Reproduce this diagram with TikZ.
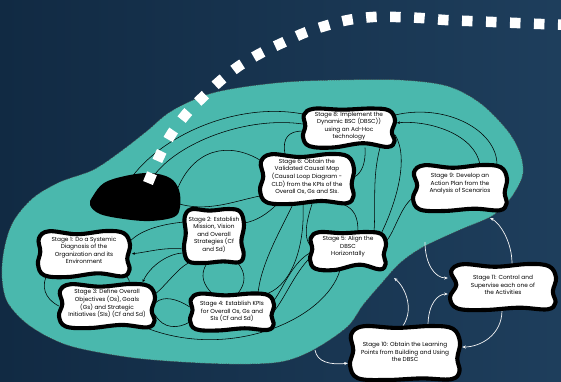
\documentclass[tikz,border=0pt]{standalone}
\usepackage{fontspec}
\setmainfont{Poppins}
\usetikzlibrary{calc,arrows.meta}
\pgfdeclarelayer{backdrop}
\pgfdeclarelayer{links}
\pgfdeclarelayer{shapes}
\pgfsetlayers{backdrop,links,shapes,main}

\definecolor{navyL}{HTML}{112A43}
\definecolor{navyR}{HTML}{1E3E5C}
\definecolor{lagoon}{HTML}{4AB8AD}

\tikzset{
  stagearea/.style={rectangle, inner sep=0pt, font=\fontsize{5.8}{7.4}\selectfont},
  link/.style={line width=0.55pt, black},
  linkarrow/.style={link, -{Stealth[length=3pt,width=2.6pt]}, shorten >=1.8pt},
  whitelink/.style={line width=0.7pt, white!92!gray, -{Stealth[length=3.6pt,width=3pt]}},
  whitelinkin/.style={whitelink, shorten >=2pt},
  stageline/.style={draw=black, fill=white, line width=4.1pt, line join=round},
}

% text block raised by #1 inside a stage node
\newcommand\stagetext[2]{\raisebox{#1}[0pt][0pt]{\begin{tabular}{@{}c@{}}#2\end{tabular}}}

% wavy white outline around a stage node: #2,#3 half sizes, #4-#7 dents (top,right,bottom,left)
\newcommand\stageblob[7]{%
  \begin{scope}[shift={(#1.center)}, x=#2pt, y=-#3pt]
    \path[stageline] plot[smooth cycle, tension=0.62] coordinates {
      (-0.76,-0.99) (-0.15,{-1+(#4)}) (0.48,-1.00) (0.87,-0.90) (1.00,-0.40)
      ({1-(#5)},0.20) (0.99,0.68) (0.84,0.97) (0.30,{1-(#6)}) (-0.35,1.00)
      (-0.86,0.93) (-1.00,0.45) ({-1+(#7)},-0.10) (-0.98,-0.68)};
  \end{scope}}

\begin{document}
\begin{tikzpicture}[x=1pt,y=-1pt]
\useasboundingbox (0,0) rectangle (561,381);

\begin{pgfonlayer}{backdrop}
  \shade[left color=navyL, right color=navyR] (0,0) rectangle (561,381);
  \path[fill=lagoon, draw=black!70, line width=0.5pt, dash pattern=on 1.2pt off 1.2pt]
    plot[smooth cycle, tension=0.55] coordinates {
      (93,170) (120,152) (147,131) (170,112) (203,96) (237,88) (287,82) (340,80)
      (400,80) (447,86) (480,103) (507,130) (520,153) (523,173) (516,190) (505,205)
      (490,217) (457,231) (423,247) (400,263) (380,285) (363,305) (347,327) (313,350)
      (280,362) (230,364) (167,361) (120,356) (67,345) (30,326) (8,303) (2,278)
      (4,250) (13,222) (33,198) (60,182)};
\end{pgfonlayer}

% stages
\node[stagearea, minimum width=92pt, minimum height=46pt] (s1) at (84,254)
  {\stagetext{1.6pt}{Stage 1: Do a Systemic\\Diagnosis of the\\Organization and its\\Environment}};
\node[stagearea, minimum width=60pt, minimum height=54pt] (s2) at (214,236)
  {\stagetext{-0.4pt}{Stage 2: Establish\\Mission, Vision\\and Overall\\Strategies (Cf\\and Sd)}};
\node[stagearea, minimum width=96pt, minimum height=44pt] (s3) at (107,306)
  {\stagetext{0.6pt}{Stage 3: Define Overall\\Objectives (Os), Goals\\(Gs) and Strategic\\Initiatives (SIs) (Cf and Sd)}};
\node[stagearea, minimum width=84pt, minimum height=37pt] (s4) at (232,312)
  {\stagetext{-1.4pt}{Stage 4: Establish KPIs\\for Overall Os, Gs and\\SIs (Cf and Sd)}};
\node[stagearea, minimum width=76pt, minimum height=38pt] (s5) at (348,251)
  {\stagetext{2.6pt}{Stage 5: Align the\\DBSC\\Horizontally}};
\node[stagearea, minimum width=94pt, minimum height=50pt] (s6) at (307,179)
  {\stagetext{0.6pt}{Stage 6: Obtain the\\Validated Causal Map\\(Causal Loop Diagram -\\CLD) from the KPIs of the\\Overall Os, Gs and SIs.}};
\node[stagearea, minimum width=92pt, minimum height=39pt] (s8) at (349,128)
  {\stagetext{0.6pt}{Stage 8: Implement the\\Dynamic BSC (DBSC))\\using an Ad-Hoc\\technology}};
\node[stagearea, minimum width=94pt, minimum height=46pt] (s9) at (460,188)
  {\stagetext{2.6pt}{Stage 9: Develop an\\Action Plan from the\\Analysis of Scenarios}};
\node[stagearea, minimum width=110pt, minimum height=54pt] (s10) at (405,353)
  {\stagetext{-1.4pt}{Stage 10: Obtain the Learning\\Points from Building and Using\\the DBSC}};
\node[stagearea, minimum width=106pt, minimum height=46pt] (s11) at (503,287)
  {\stagetext{-0.4pt}{Stage 11: Control and\\Supervise each one of\\the Activities}};
\node[inner sep=0pt, minimum width=86pt, minimum height=46pt] (core) at (135,198) {};

\coordinate (w1) at (394,278);
\coordinate (w3) at (425,242);
\coordinate (w4) at (490,218);
\coordinate (w6) at (315,350);

\begin{pgfonlayer}{links}
  % black links inside the lagoon
  \draw[link] ($(core.north)+(-3,2)$) .. controls +(33,-44) and +(-63,-12) .. ($(s8.west)+(0,-14)$);
  \draw[link] ($(core.north)+(18,2)$) .. controls +(25,-35) and +(-55,-8) .. ($(s8.west)+(0,-4)$);
  \draw[link] ($(core.east)+(-2,-6)$) .. controls +(17,-45) and +(-30,-18) .. ($(s6.west)+(0,-19)$);
  \draw[link] ($(core.east)+(-2,5)$) .. controls +(30,10) and +(-25,5) .. ($(s6.west)+(0,17)$);

  \draw[link] ($(s6.north)+(-22,0)$) .. controls +(-3,-16) and +(-14,0) .. ($(s8.west)+(0,3)$);
  \draw[link] ($(s8.south)+(16,0)$) .. controls +(1,14) and +(8,-4) .. ($(s6.east)+(0,-2)$);
  \draw[link] ($(s8.south)+(31,0)$) .. controls +(-8,30) and +(2,-28) .. ($(s5.north)+(26,0)$);
  \draw[link] ($(s8.east)+(0,7)$) .. controls +(15,25) and +(12,-25) .. ($(s5.north)+(34,0)$);
  \draw[link] ($(s8.east)+(0,-13)$) .. controls +(50,-12) and +(0,-35) .. ($(s9.north)+(37,0)$);
  \draw[linkarrow] ($(s9.north)+(20,0)$) .. controls +(-5,-30) and +(35,-3) .. ($(s8.east)+(0,-5)$);

  \draw[link] ($(s6.south)+(-14,0)$) .. controls +(-12,25) and +(3,-30) .. ($(s4.north)+(26,0)$);
  \draw[link] ($(s6.south)+(-4,0)$) .. controls +(2,40) and +(25,-10) .. ($(s4.north)+(36,0)$);
  \draw[link] ($(s6.south)+(5,0)$) .. controls +(-6,18) and +(-6,-8) .. ($(s5.west)+(0,-6)$);
  \draw[link] ($(s6.south)+(36,0)$) .. controls +(12,5) and +(0,-14) .. ($(s5.north)+(10,0)$);
  \draw[link] ($(s6.south)+(-30,0)$) .. controls +(-10,10) and +(12,-2) .. ($(s2.east)+(0,-13)$);

  \draw[link] ($(s5.west)+(0,2)$) .. controls +(-18,10) and +(8,-10) .. ($(s4.east)+(0,-12)$);
  \draw[link] ($(s5.west)+(0,7)$) .. controls +(-15,15) and +(10,-12) .. ($(s4.east)+(0,-1)$);
  \draw[link] ($(s5.south)+(-8,0)$) .. controls +(-15,50) and +(83,32) .. ($(s3.south)+(40,0)$);
  \draw[link] ($(s9.west)+(0,10)$) .. controls +(-12,8) and +(8,-8) .. ($(s5.east)+(0,-10)$);

  \draw[link] ($(s1.east)+(0,-13)$) .. controls +(12,-12) and +(-20,2) .. ($(s2.west)+(0,-14)$);
  \draw[linkarrow] ($(s2.west)+(0,13)$) .. controls +(-20,-2) and +(18,-2) .. (s1.east);
  \draw[linkarrow] ($(s2.west)+(0,17)$) .. controls +(-15,0) and +(8,-18) .. ($(s3.north)+(35,0)$);
  \draw[link] ($(s2.south)+(-26,0)$) .. controls +(-10,5) and +(10,-8) .. ($(s3.east)+(0,-12)$);
  \draw[link] ($(s2.south)+(-7,0)$) .. controls +(-8,12) and +(-8,-8) .. ($(s4.north)+(-20,0)$);
  \draw[link] ($(s2.south)+(24,0)$) .. controls +(8,10) and +(8,-10) .. ($(s4.north)+(6,0)$);

  \draw[link] ($(s3.east)+(0,-3)$) .. controls +(8,-8) and +(-12,-8) .. ($(s4.west)+(0,-5)$);
  \draw[link] ($(s3.east)+(0,9)$) .. controls +(8,14) and +(-12,7) .. ($(s4.west)+(0,10)$);
  \draw[link] ($(s1.south)+(-38,0)$) .. controls +(-6,15) and +(-8,-4) .. (s3.west);
  \draw[link] ($(s1.south)+(43,0)$) .. controls +(3,3) and +(0,-3) .. ($(s3.north)+(22,0)$);

  % white links in the dark area
  \draw[whitelink] ($(s10.north)+(-2,0)$) .. controls +(12,-18) and +(10,8) .. (w1);
  \draw[whitelinkin] ($(s10.north)+(23,0)$) .. controls +(0,-22) and +(-12,0) .. ($(s11.west)+(0,7)$);
  \draw[whitelinkin] (w3) .. controls +(0,22) and +(-15,0) .. ($(s11.west)+(0,-9)$);
  \draw[whitelink] ($(s11.north)+(9,0)$) .. controls +(0,-22) and +(10,5) .. (w4);
  \draw[whitelinkin] ($(s11.south)+(-1,0)$) .. controls +(0,25) and +(20,0) .. ($(s10.east)+(0,-6)$);
  \draw[whitelinkin] (w6) .. controls +(2,12) and +(-20,2) .. ($(s10.west)+(0,10)$);
\end{pgfonlayer}

\begin{pgfonlayer}{shapes}
  % black core
  \fill[black] plot[smooth cycle, tension=0.6] coordinates {
    (93,196) (104,183) (125,176) (150,173) (170,178) (179,190) (180,207)
    (174,217) (150,221) (124,219) (100,214) (90,205)};
  % white square trail
  \draw[white, line width=10.5pt, dash pattern=on 10.5pt off 13.5pt]
    plot[smooth, tension=0.55] coordinates {
      (148,183) (160,155) (172,133) (187,113) (204,96) (220,81) (239,66) (261,53)
      (282,43) (304,33) (325,26) (348,20) (373,17) (396,17) (421,18) (445,20)
      (469,21) (493,22) (517,23) (541,24) (570,25)};
  \stageblob{s1}{46}{23}{0.14}{0.06}{0.16}{0.05}
  \stageblob{s2}{30}{27}{0.06}{0.09}{0.06}{0.06}
  \stageblob{s3}{48}{22}{0.12}{0.07}{0.14}{0.07}
  \stageblob{s4}{42}{18.5}{0.10}{0.06}{0.12}{0.06}
  \stageblob{s5}{38}{19}{0.06}{0.06}{0.28}{0.06}
  \stageblob{s6}{47}{25}{0.12}{0.05}{0.12}{0.07}
  \stageblob{s8}{46}{19.5}{0.06}{0.07}{0.22}{0.05}
  \stageblob{s9}{47}{23}{0.12}{0.05}{0.10}{0.09}
  \stageblob{s10}{55}{27}{0.07}{0.05}{0.06}{0.06}
  \stageblob{s11}{53}{23}{0.12}{0.06}{0.10}{0.12}
\end{pgfonlayer}
\end{tikzpicture}
\end{document}
